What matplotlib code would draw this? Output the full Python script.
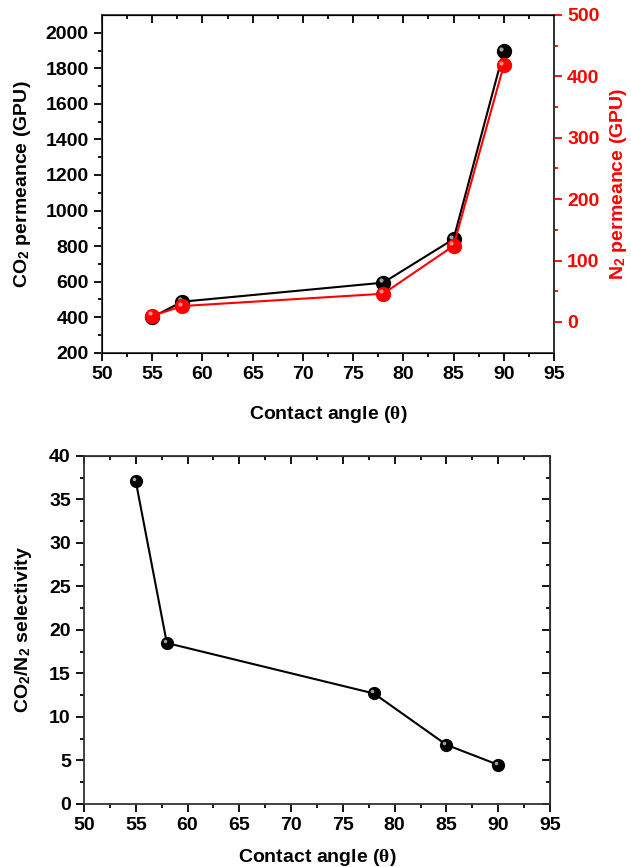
import matplotlib.pyplot as plt
from matplotlib.transforms import offset_copy

plt.rcParams['font.family'] = ['Liberation Sans', 'DejaVu Sans']
plt.rcParams['font.weight'] = 'bold'
plt.rcParams['axes.labelweight'] = 'bold'
plt.rcParams['mathtext.fontset'] = 'custom'
plt.rcParams['mathtext.rm'] = 'Liberation Sans:bold'
plt.rcParams['mathtext.bf'] = 'Liberation Sans:bold'
plt.rcParams['mathtext.it'] = 'Liberation Serif'

# data
angle = [55, 58, 78, 85, 90]
co2 = [400, 487, 594, 839, 1896]
n2 = [10, 26, 46, 124, 418]
selectivity = [37.1, 18.5, 12.7, 6.8, 4.5]

xticks = [50, 55, 60, 65, 70, 75, 80, 85, 90, 95]
xminor = [52.5 + 5 * i for i in range(9)]

FS = 14


def sphere(ax, x, y, color, size, hl):
    # shiny ball marker: base dot plus small highlight
    ax.plot(x, y, 'o', color=color, ms=size, mec=color, zorder=3)
    tr = offset_copy(ax.transData, fig=ax.figure, x=-size * 0.18, y=size * 0.18, units='points')
    ax.plot(x, y, 'o', color=hl, ms=size * 0.3, mec='none', alpha=0.8, transform=tr, zorder=4)


def ticks(axis_obj, direction, **kw):
    axis_obj.tick_params(which='both', direction=direction, width=1.3, **kw)
    axis_obj.tick_params(which='major', length=6)
    axis_obj.tick_params(which='minor', length=3)


def style_x(ax, pad):
    ax.set_xlim(50, 95)
    ax.set_xticks(xticks)
    ax.set_xticks(xminor, minor=True)
    ax.tick_params(axis='x', which='both', direction='out', top=False, labelsize=FS, width=1.3)
    ax.tick_params(axis='x', which='major', length=6)
    ax.tick_params(axis='x', which='minor', length=3)
    ax.set_xlabel(r'Contact angle ($\theta$)', fontsize=FS, labelpad=pad)
    sec = ax.secondary_xaxis('top')
    sec.set_xticks(xticks)
    sec.set_xticks(xminor, minor=True)
    ticks(sec, 'in', labeltop=False)
    for s in ax.spines.values():
        s.set_linewidth(1.3)
        s.set_color('#333333')


fig = plt.figure(figsize=(6.31, 8.67), dpi=100)

# ---------- top panel ----------
ax1 = fig.add_axes([0.1616, 0.5932, 0.7163, 0.3895])
ax1.plot(angle, co2, color='black', lw=1.5, zorder=2)
sphere(ax1, angle, co2, 'black', 10, '#cccccc')
ax1.set_ylim(200, 2100)
ax1.set_yticks(range(200, 2001, 200))
ax1.set_yticks(range(300, 2100, 200), minor=True)
ax1.tick_params(axis='y', which='both', direction='out', labelsize=FS, width=1.3)
ax1.tick_params(axis='y', which='major', length=6)
ax1.tick_params(axis='y', which='minor', length=3)
ax1.set_ylabel(r'CO$_\mathbf{2}$ permeance (GPU)', fontsize=FS, labelpad=9)
style_x(ax1, 15)

ax2 = ax1.twinx()
ax2.plot(angle, n2, color='red', lw=1.5, zorder=2)
sphere(ax2, angle, n2, 'red', 10, '#ffb0b0')
ax2.set_ylim(-50, 500)
ax2.set_yticks(range(0, 501, 100))
ax2.set_yticks(range(50, 500, 100), minor=True)
ax2.tick_params(axis='y', which='both', direction='out', colors='red', labelsize=FS, width=1.3)
ax2.tick_params(axis='y', which='major', length=6)
ax2.tick_params(axis='y', which='minor', length=3)
ax2.spines['right'].set_color('#333333')
ax2.spines['right'].set_linewidth(1.3)
ax2.set_ylabel(r'N$_\mathbf{2}$ permeance (GPU)', fontsize=FS, color='red', labelpad=6)

# ---------- bottom panel ----------
ax3 = fig.add_axes([0.1331, 0.0727, 0.7385, 0.4014])
ax3.plot(angle, selectivity, color='black', lw=1.5, zorder=2)
sphere(ax3, angle, selectivity, 'black', 8.5, '#cccccc')
ax3.set_ylim(0, 40)
ax3.set_yticks(range(0, 41, 5))
ax3.set_yticks([2.5 + 5 * i for i in range(8)], minor=True)
ax3.tick_params(axis='y', which='both', direction='out', labelsize=FS, width=1.3)
ax3.tick_params(axis='y', which='major', length=6)
ax3.tick_params(axis='y', which='minor', length=3)
ax3.set_ylabel(r'CO$_\mathbf{2}$/N$_\mathbf{2}$ selectivity', fontsize=FS, labelpad=11)
style_x(ax3, 9)
sec_r = ax3.secondary_yaxis('right')
sec_r.set_yticks(range(0, 41, 5))
sec_r.set_yticks([2.5 + 5 * i for i in range(8)], minor=True)
ticks(sec_r, 'in', labelright=False)

fig.savefig('out.png', dpi=100)
